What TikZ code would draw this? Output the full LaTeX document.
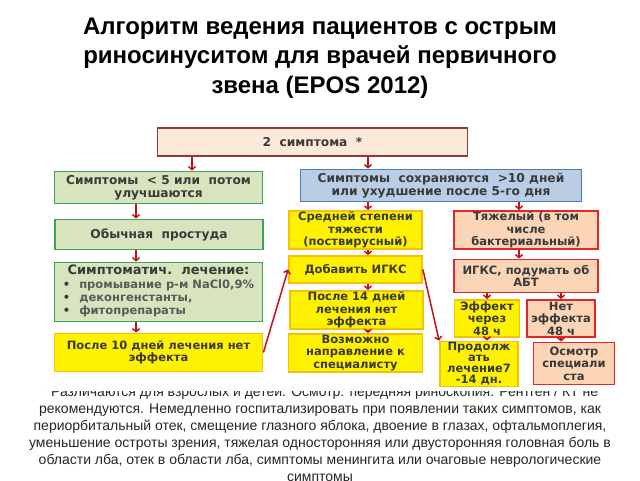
\documentclass[tikz,border=0pt]{standalone}
\usepackage{fontspec}
\setmainfont{Liberation Sans}
\newfontfamily\boxfont{DejaVu Sans}
\usetikzlibrary{arrows.meta}
\definecolor{symfill}{HTML}{FDE9D9}
\definecolor{symline}{HTML}{953735}
\definecolor{grfill}{HTML}{D7E4BD}
\definecolor{grline}{HTML}{3AA655}
\definecolor{blfill}{HTML}{B9CDE5}
\definecolor{blline}{HTML}{4A7EBB}
\definecolor{yeline}{HTML}{F7C000}
\definecolor{rdfill}{HTML}{FBD5B5}
\definecolor{rdline}{HTML}{E3262A}
\definecolor{arrred}{HTML}{C0141A}
\definecolor{boxtext}{HTML}{3A3A3A}
\definecolor{listgray}{HTML}{5A5A5A}
\definecolor{notetext}{HTML}{262626}

\begin{document}
\begin{tikzpicture}[x=1pt, y=-1pt,
      box/.style={draw, line width=1.8pt, inner sep=1pt, align=center, text=boxtext,
        font=\boxfont\bfseries\fontsize{11.5}{12.5}\selectfont},
      sbox/.style={box, fill=symfill, draw=symline, font=\boxfont\bfseries\fontsize{12.2}{13}\selectfont},
      gbox/.style={box, fill=grfill, draw=grline, font=\boxfont\bfseries\fontsize{12.2}{13}\selectfont},
      bbox/.style={box, fill=blfill, draw=blline, font=\boxfont\bfseries\fontsize{12.2}{13}\selectfont},
      ybox/.style={box, fill=yellow, draw=yeline},
      rbox/.style={box, fill=rdfill, draw=rdline},
      arr/.style={draw=arrred, line width=1.5pt, -{Straight Barb[length=3pt,width=7pt]}}]

      \fill[white] (0,0) rectangle (640,480);
      \useasboundingbox (0,0) rectangle (640,480);

      \node[font=\bfseries\fontsize{24}{29.5}\selectfont, align=center] (title) at (320,58)
      {Алгоритм ведения пациентов с острым\\риносинуситом для врачей первичного\\звена (EPOS 2012)};

      \node[anchor=north, inner sep=0pt, align=center, text=notetext,
        font=\fontsize{14}{17}\selectfont] (note) at (320,386)
      {* Различаются для взрослых и детей. Осмотр: передняя риноскопия. Рентген / КТ не\\
        рекомендуются. Немедленно госпитализировать при появлении таких симптомов, как\\
        периорбитальный отек, смещение глазного яблока, двоение в глазах, офтальмоплегия,\\
        уменьшение остроты зрения, тяжелая односторонняя или двусторонняя головная боль в\\
        области лба, отек в области лба, симптомы менингита или очаговые неврологические\\
        симптомы};
      \fill[white] (0,110) rectangle (640,390.5);

      \node[sbox, minimum width=310, minimum height=28] (sym2) at (312.5,142) {2\ \ симптома\ \ *};
      \node[gbox, minimum width=208, minimum height=32] (less5) at (158.5,187.5) {Симптомы\ \ < 5 или\ \ потом\\улучшаются};
      \node[bbox, minimum width=281, minimum height=32] (more10) at (441,185.5) {Симптомы\ \ сохраняются\ \ >10 дней\\или ухудшение после 5-го дня};
      \node[gbox, minimum width=208, minimum height=30] (cold) at (159,234.5) {Обычная\ \ простуда};
      \node[gbox, minimum width=208, minimum height=59] (symtx) at (158.5,292)
      {\begin{tabular}{@{}l@{\hspace{9pt}}l@{}}
          \multicolumn{2}{@{}c@{}}{\fontsize{13}{13}\selectfont Симптоматич.\ \ лечение:}\\[1pt]
          \fontsize{11.5}{12}\selectfont • & \fontsize{11.5}{12}\selectfont\color{listgray}промывание р-м NaCl0,9\%\\
          \fontsize{11.5}{12}\selectfont • & \fontsize{11.5}{12}\selectfont\color{listgray}деконгенстанты,\\
          \fontsize{11.5}{12}\selectfont • & \fontsize{11.5}{12}\selectfont\color{listgray}фитопрепараты
        \end{tabular}};
      \node[ybox, minimum width=208, minimum height=38] (after10) at (158.5,352.5) {После 10 дней лечения нет\\эффекта};
      \node[ybox, minimum width=133, minimum height=38] (moderate) at (355.5,230) {Средней степени\\тяжести\\(поствирусный)};
      \node[rbox, minimum width=144, minimum height=38] (severe) at (526,230) {Тяжелый (в том\\числе\\бактериальный)};
      \node[ybox, minimum width=133, minimum height=27] (addigks) at (355.5,269.5) {Добавить ИГКС};
      \node[rbox, minimum width=144, minimum height=33] (igksabt) at (526,276) {ИГКС, подумать об\\АБТ};
      \node[ybox, minimum width=133, minimum height=36] (after14) at (356.5,310) {После 14 дней\\лечения нет\\эффекта};
      \node[ybox, minimum width=134, minimum height=36] (refer) at (355.5,353) {Возможно\\направление к\\специалисту};
      \node[ybox, minimum width=65, minimum height=37] (effect) at (487,318.5) {Эффект\\через\\48 ч};
      \node[rbox, minimum width=68, minimum height=37] (noeffect) at (561,318.5) {Нет\\эффекта\\48 ч};
      \node[ybox, minimum width=78, minimum height=44, font=\boxfont\bfseries\fontsize{11.5}{11}\selectfont] (proceed) at (479,364) {Продолж\\ать\\лечение7\\-14 дн.};
      \node[rbox, minimum width=81, minimum height=42] (exam) at (574,363.5) {Осмотр\\специали\\ста};

      \path (136,0) coordinate (xl) (192,0) coordinate (xg) (368,0) coordinate (xm) (519,0) coordinate (xr);

      \draw[arr] (sym2.south -| xg) -- (less5.north -| xg);
      \draw[arr] (sym2.south -| xm) -- (more10.north -| xm);
      \draw[arr] (less5.south -| xl) -- (cold.north -| xl);
      \draw[arr] (cold.south -| xl) -- (symtx.north -| xl);
      \draw[arr] (symtx.south -| xl) -- (after10.north -| xl);
      \draw[arr] (more10.south -| xm) -- (moderate.north -| xm);
      \draw[arr] (more10.south -| xr) -- (severe.north -| xr);
      \draw[arr] (moderate.south -| xm) -- (addigks.north -| xm);
      \draw[arr] (severe.south -| xr) -- (igksabt.north -| xr);
      \draw[arr] (addigks.south -| xm) -- (after14.north -| xm);
      \draw[arr] (after14.south -| xm) -- (refer.north -| xm);
      \draw[arr] (igksabt.south -| effect.north) -- (effect.north);
      \draw[arr] (igksabt.south -| noeffect.north) -- (noeffect.north);
      \draw[arr] (effect.south) -- (effect.south |- proceed.north);
      \draw[arr] (noeffect.south) -- (noeffect.south |- exam.north);
      \draw[arr] (after10.east) -- (addigks.west);
      \draw[arr] (addigks.east) -- (proceed.north west);
    \end{tikzpicture}
\end{document}
